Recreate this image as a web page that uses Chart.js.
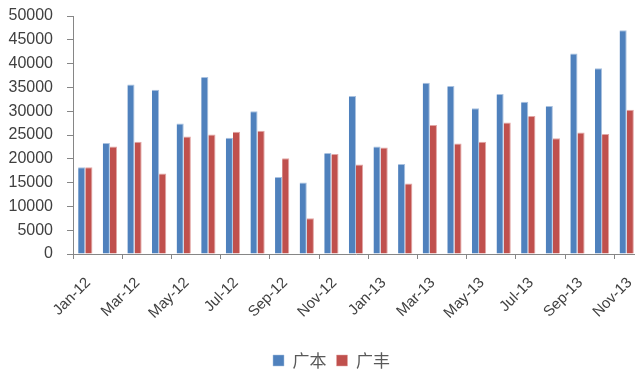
<!DOCTYPE html>
<html>
<head>
<meta charset="utf-8">
<script src="https://cdn.jsdelivr.net/npm/chart.js@4/dist/chart.umd.min.js"></script>
<style>
html,body{margin:0;padding:0;background:#fff;overflow:hidden;}
#wrap{position:relative;width:642px;height:371px;}
</style>
</head>
<body>
<div id="wrap"><canvas id="c"></canvas></div>
<script>
const categories = ["Jan-12","Feb-12","Mar-12","Apr-12","May-12","Jun-12","Jul-12","Aug-12","Sep-12","Oct-12","Nov-12","Dec-12",
  "Jan-13","Feb-13","Mar-13","Apr-13","May-13","Jun-13","Jul-13","Aug-13","Sep-13","Oct-13","Nov-13"];
const seriesNames = ["广本","广丰"];
const guangben = [18200,23300,35600,34500,27400,37200,24400,30000,16200,15000,21200,33200,
  22600,18900,36000,35300,30600,33600,32000,31100,42100,39000,47000];
const guangfeng = [18200,22600,23600,16900,24700,25100,25700,25900,20100,7500,21000,18800,
  22400,14800,27100,23200,23600,27600,29000,24300,25500,25200,30300];
const yTicks = [0,5000,10000,15000,20000,25000,30000,35000,40000,45000,50000];

const axisGray = '#868686';
const textColor = '#404040';

const legendShift = {
  id: 'legendShift',
  afterLayout(chart) {
    if (chart.legend) { chart.legend.left += 12; chart.legend.right += 12; }
  }
};

new Chart(document.getElementById('c'), {
  type: 'bar',
  data: {
    labels: categories,
    datasets: [
      {label: seriesNames[0], data: guangben, backgroundColor: '#4F81BD',
       borderColor: '#A9C1DF', borderWidth: {top:1,right:1,left:0,bottom:0}, borderSkipped: 'bottom'},
      {label: seriesNames[1], data: guangfeng, backgroundColor: '#C0504D',
       borderColor: '#E2A6A5', borderWidth: {top:1,right:1,left:0,bottom:0}, borderSkipped: 'bottom'}
    ]
  },
  plugins: [legendShift],
  options: {
    responsive: true,
    maintainAspectRatio: false,
    animation: false,
    devicePixelRatio: 1,
    layout: {padding: {top: 16, right: 3, left: 0, bottom: -8}},
    datasets: {bar: {categoryPercentage: 0.58, barPercentage: 1.0}},
    plugins: {
      tooltip: {enabled: false},
      legend: {
        position: 'bottom',
        labels: {
          boxWidth: 11, boxHeight: 11, padding: 10,
          color: '#595959',
          font: {family: '"Noto Sans CJK SC", "Liberation Sans", sans-serif', size: 17}
        }
      }
    },
    scales: {
      x: {
        offset: true,
        border: {color: axisGray, width: 1},
        grid: {
          offset: true,
          drawOnChartArea: false,
          drawTicks: true,
          tickLength: 5,
          color: (ctx) => (ctx.index % 2 === 0 ? axisGray : 'rgba(0,0,0,0)')
        },
        ticks: {
          autoSkip: false,
          minRotation: 45, maxRotation: 45,
          padding: 15,
          labelOffset: 3,
          color: textColor,
          font: {family: '"Liberation Sans", sans-serif', size: 15},
          callback: function(val, i) { return i % 2 === 0 ? categories[i] : ''; }
        },
        afterFit: (s) => { s.height = 88; s.paddingLeft = 0; s.paddingRight = 0; s.paddingTop = 0; s.paddingBottom = 0; }
      },
      y: {
        min: 0, max: 50000,
        border: {color: axisGray, width: 1},
        grid: {drawOnChartArea: false, drawTicks: true, tickLength: 6, color: axisGray},
        afterBuildTicks: (s) => { s.ticks = yTicks.map(v => ({value: v})); },
        ticks: {
          padding: 14,
          color: textColor,
          font: {family: '"Liberation Sans", sans-serif', size: 16},
          callback: (v) => String(v)
        },
        afterFit: (s) => { s.width = 73; s.paddingLeft = 0; s.paddingRight = 0; s.paddingTop = 0; s.paddingBottom = 0; }
      }
    }
  }
});
</script>
</body>
</html>
